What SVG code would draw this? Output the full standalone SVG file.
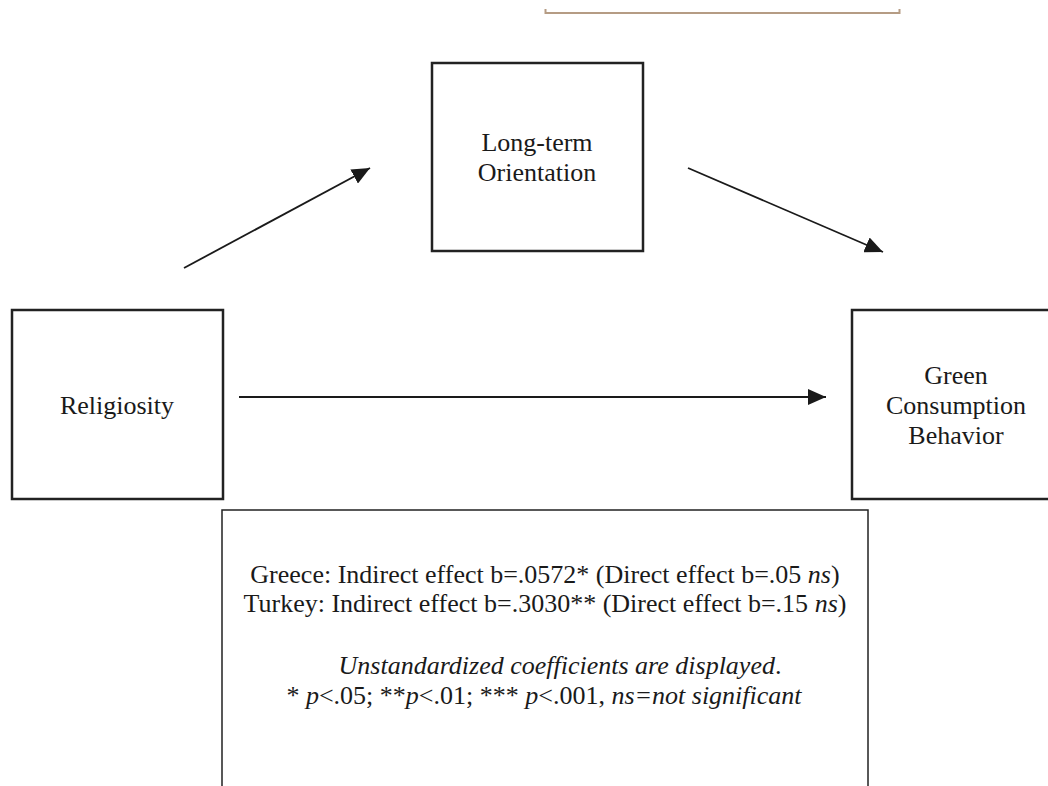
<svg xmlns="http://www.w3.org/2000/svg" width="1048" height="786" viewBox="0 0 1048 786">
<defs>
<marker id="ah" markerUnits="userSpaceOnUse" markerWidth="20" markerHeight="16" refX="18" refY="8" orient="auto">
<path d="M0,0 L18,8 L0,16 Z" fill="#1a1a1a"/>
</marker>
<style>
.box{fill:#fff;stroke:#222;stroke-width:2.5}
.note{fill:#fff;stroke:#222;stroke-width:1.5}
.lbl{font-family:"Liberation Serif","Times New Roman",serif;font-size:26px;fill:#1a1a1a;text-anchor:middle}
.txt{font-family:"Liberation Serif","Times New Roman",serif;font-size:26px;fill:#1a1a1a;text-anchor:middle}
.conn{stroke:#1a1a1a;stroke-width:1.8;fill:none;marker-end:url(#ah)}
</style>
</defs>
<rect width="1048" height="786" fill="#fff"/>
<path d="M545.5,9 V13 H899.5 V9" fill="none" stroke="#b59c84" stroke-width="2"/>
<g id="node-longterm">
<rect class="box" x="432" y="63" width="211" height="188"/>
<text class="lbl" x="537" y="151">Long-term</text>
<text class="lbl" x="537" y="181">Orientation</text>
</g>
<g id="node-religiosity">
<rect class="box" x="12" y="310" width="211" height="189"/>
<text class="lbl" x="117" y="414">Religiosity</text>
</g>
<g id="node-green">
<rect class="box" x="852" y="310" width="210" height="189"/>
<text class="lbl" x="956" y="384">Green</text>
<text class="lbl" x="956" y="414">Consumption</text>
<text class="lbl" x="956" y="444">Behavior</text>
</g>
<g id="node-note">
<rect class="note" x="222" y="510" width="646" height="300"/>
<text class="txt" x="545" y="583">Greece: Indirect effect b=.0572* (Direct effect b=.05 <tspan font-style="italic">ns</tspan>)</text>
<text class="txt" x="545" y="612">Turkey: Indirect effect b=.3030** (Direct effect b=.15 <tspan font-style="italic">ns</tspan>)</text>
<text class="txt" x="560" y="674" font-style="italic">Unstandardized coefficients are displayed<tspan font-style="normal">.</tspan></text>
<text class="txt" x="544" y="704">* <tspan font-style="italic">p</tspan>&lt;.05; **<tspan font-style="italic">p</tspan>&lt;.01; *** <tspan font-style="italic">p</tspan>&lt;.001, <tspan font-style="italic">ns=not significant</tspan></text>
</g>
<g id="connectors">
<line class="conn" x1="184" y1="268" x2="370" y2="168"/>
<line class="conn" x1="688" y1="168" x2="883" y2="252"/>
<line class="conn" x1="239" y1="397" x2="826" y2="397"/>
</g>
</svg>
